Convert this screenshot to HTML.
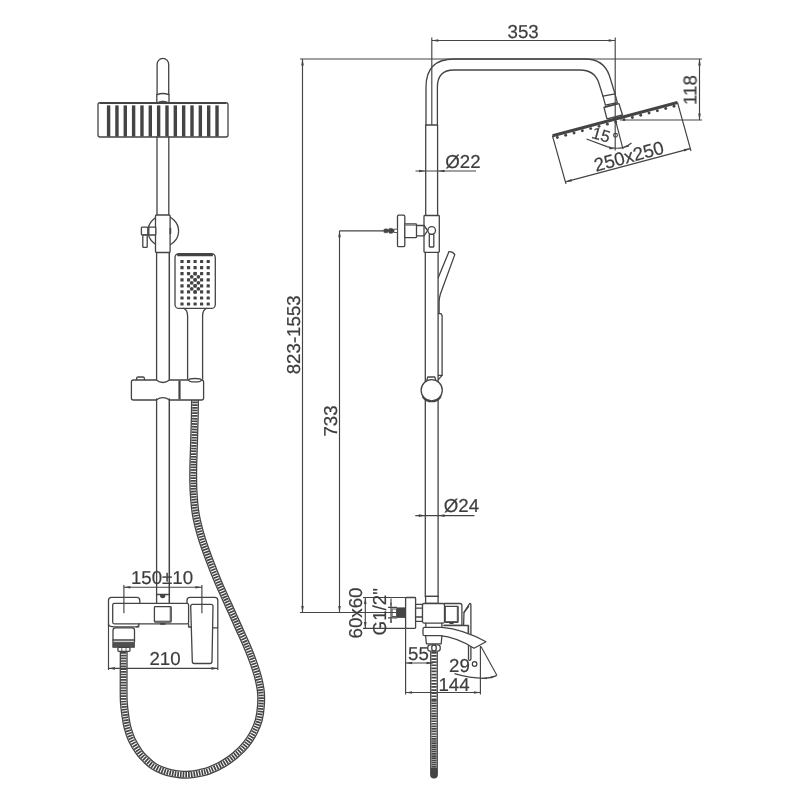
<!DOCTYPE html>
<html><head><meta charset="utf-8"><title>Shower column drawing</title>
<style>html,body{margin:0;padding:0;background:#fff;}body{width:800px;height:800px;overflow:hidden;}svg{display:block;}text{font-family:"Liberation Sans",sans-serif;font-size:18.7px;fill:#3d3d3d;stroke:#3d3d3d;stroke-width:0.2px;}</style>
</head><body>
<svg width="800" height="800" viewBox="0 0 800 800">
<rect x="0" y="0" width="800" height="800" fill="#fff"/>
<g fill="none" stroke-linecap="butt">
<path d="M195,399 C194.95,402.50 194.90,411.50 194.70,420.00 C194.50,428.50 194.05,441.33 193.80,450.00 C193.55,458.67 193.23,464.92 193.20,472.00 C193.17,479.08 193.15,485.33 193.60,492.50 C194.05,499.67 194.58,507.50 195.90,515.00 C197.22,522.50 199.25,530.00 201.50,537.50 C203.75,545.00 206.58,552.50 209.40,560.00 C212.22,567.50 215.22,575.00 218.40,582.50 C221.58,590.00 225.13,597.50 228.50,605.00 C231.87,612.50 235.32,620.17 238.60,627.50 C241.88,634.83 245.65,642.92 248.20,649.00 C250.75,655.08 252.22,659.17 253.90,664.00 C255.58,668.83 257.08,673.33 258.25,678.00 C259.42,682.67 260.46,687.33 260.90,692.00 C261.34,696.67 261.25,701.33 260.90,706.00 C260.55,710.67 259.97,715.62 258.80,720.00 C257.63,724.38 256.03,728.17 253.90,732.25 C251.77,736.33 249.07,740.71 246.00,744.50 C242.93,748.29 239.29,751.79 235.50,755.00 C231.71,758.21 227.62,761.17 223.25,763.75 C218.88,766.33 213.12,768.98 209.25,770.50 C205.38,772.02 203.21,772.22 200.00,772.90 C196.79,773.58 193.33,774.35 190.00,774.60 C186.67,774.85 183.12,774.65 180.00,774.40 C176.88,774.15 174.17,773.73 171.25,773.10 C168.33,772.47 165.42,771.74 162.50,770.60 C159.58,769.46 156.46,768.02 153.75,766.25 C151.04,764.48 148.64,762.29 146.25,760.00 C143.86,757.71 141.79,755.83 139.40,752.50 C137.01,749.17 133.88,744.17 131.90,740.00 C129.92,735.83 128.61,731.67 127.50,727.50 C126.39,723.33 125.86,719.17 125.25,715.00 C124.64,710.83 124.12,706.67 123.85,702.50 C123.57,698.33 123.64,692.08 123.60,690.00 L123.7,651" stroke="#444444" stroke-width="8"/>
<path d="M195,399 C194.95,402.50 194.90,411.50 194.70,420.00 C194.50,428.50 194.05,441.33 193.80,450.00 C193.55,458.67 193.23,464.92 193.20,472.00 C193.17,479.08 193.15,485.33 193.60,492.50 C194.05,499.67 194.58,507.50 195.90,515.00 C197.22,522.50 199.25,530.00 201.50,537.50 C203.75,545.00 206.58,552.50 209.40,560.00 C212.22,567.50 215.22,575.00 218.40,582.50 C221.58,590.00 225.13,597.50 228.50,605.00 C231.87,612.50 235.32,620.17 238.60,627.50 C241.88,634.83 245.65,642.92 248.20,649.00 C250.75,655.08 252.22,659.17 253.90,664.00 C255.58,668.83 257.08,673.33 258.25,678.00 C259.42,682.67 260.46,687.33 260.90,692.00 C261.34,696.67 261.25,701.33 260.90,706.00 C260.55,710.67 259.97,715.62 258.80,720.00 C257.63,724.38 256.03,728.17 253.90,732.25 C251.77,736.33 249.07,740.71 246.00,744.50 C242.93,748.29 239.29,751.79 235.50,755.00 C231.71,758.21 227.62,761.17 223.25,763.75 C218.88,766.33 213.12,768.98 209.25,770.50 C205.38,772.02 203.21,772.22 200.00,772.90 C196.79,773.58 193.33,774.35 190.00,774.60 C186.67,774.85 183.12,774.65 180.00,774.40 C176.88,774.15 174.17,773.73 171.25,773.10 C168.33,772.47 165.42,771.74 162.50,770.60 C159.58,769.46 156.46,768.02 153.75,766.25 C151.04,764.48 148.64,762.29 146.25,760.00 C143.86,757.71 141.79,755.83 139.40,752.50 C137.01,749.17 133.88,744.17 131.90,740.00 C129.92,735.83 128.61,731.67 127.50,727.50 C126.39,723.33 125.86,719.17 125.25,715.00 C124.64,710.83 124.12,706.67 123.85,702.50 C123.57,698.33 123.64,692.08 123.60,690.00 L123.7,651" stroke="#fff" stroke-width="5.4"/>
<path d="M195,399 C194.95,402.50 194.90,411.50 194.70,420.00 C194.50,428.50 194.05,441.33 193.80,450.00 C193.55,458.67 193.23,464.92 193.20,472.00 C193.17,479.08 193.15,485.33 193.60,492.50 C194.05,499.67 194.58,507.50 195.90,515.00 C197.22,522.50 199.25,530.00 201.50,537.50 C203.75,545.00 206.58,552.50 209.40,560.00 C212.22,567.50 215.22,575.00 218.40,582.50 C221.58,590.00 225.13,597.50 228.50,605.00 C231.87,612.50 235.32,620.17 238.60,627.50 C241.88,634.83 245.65,642.92 248.20,649.00 C250.75,655.08 252.22,659.17 253.90,664.00 C255.58,668.83 257.08,673.33 258.25,678.00 C259.42,682.67 260.46,687.33 260.90,692.00 C261.34,696.67 261.25,701.33 260.90,706.00 C260.55,710.67 259.97,715.62 258.80,720.00 C257.63,724.38 256.03,728.17 253.90,732.25 C251.77,736.33 249.07,740.71 246.00,744.50 C242.93,748.29 239.29,751.79 235.50,755.00 C231.71,758.21 227.62,761.17 223.25,763.75 C218.88,766.33 213.12,768.98 209.25,770.50 C205.38,772.02 203.21,772.22 200.00,772.90 C196.79,773.58 193.33,774.35 190.00,774.60 C186.67,774.85 183.12,774.65 180.00,774.40 C176.88,774.15 174.17,773.73 171.25,773.10 C168.33,772.47 165.42,771.74 162.50,770.60 C159.58,769.46 156.46,768.02 153.75,766.25 C151.04,764.48 148.64,762.29 146.25,760.00 C143.86,757.71 141.79,755.83 139.40,752.50 C137.01,749.17 133.88,744.17 131.90,740.00 C129.92,735.83 128.61,731.67 127.50,727.50 C126.39,723.33 125.86,719.17 125.25,715.00 C124.64,710.83 124.12,706.67 123.85,702.50 C123.57,698.33 123.64,692.08 123.60,690.00 L123.7,651" stroke="#444444" stroke-width="5.4" stroke-dasharray="1.7 1.0"/>
</g>
<g fill="none">
<path d="M434,651 L434,774.6" stroke="#444444" stroke-width="7.8" stroke-linecap="round"/>
<path d="M434,651 L434,768" stroke="#fff" stroke-width="5.2"/>
<path d="M434,652 L434,700" stroke="#444444" stroke-width="5.2" stroke-dasharray="1.7 1.4"/>
<path d="M434,700 L434,738" stroke="#444444" stroke-width="5.2" stroke-dasharray="1.65 0.9"/>
<path d="M434,738 L434,768" stroke="#444444" stroke-width="5.2" stroke-dasharray="1.7 0.45"/>
</g>
<g fill="none" stroke="#444444" stroke-width="1.3" stroke-linejoin="round" stroke-linecap="round">
<path d="M157.1,94.4 V64.4 a5.8,6 0 0 1 11.6,0 V94.4" fill="#fff"/>
<path d="M157.1,94.6 Q162.9,92.4 168.7,94.6"/>
<path d="M156.8,94.6 V102 M169,94.6 V102"/>
<path d="M158,102.2 Q162.9,99.6 167.8,102.2 Z" fill="#444444" stroke-width="0.8"/>
<rect x="98" y="102.6" width="130" height="34.4" rx="2" fill="#fff" stroke-width="1.3"/>
<path d="M99.5,103.1 H226.5" stroke-width="1.9" stroke-linecap="butt"/>
<path d="M157,137 V215 M168.8,137 V215"/>
<circle cx="163.3" cy="231" r="15.3" fill="#fff"/>
<rect x="155.5" y="215" width="14.6" height="37.5" rx="1" fill="#fff"/>
<path d="M170.4,228.6 V233.4" stroke-width="1.7"/>
<rect x="141.4" y="227.2" width="6.4" height="7.8" rx="0.8" fill="#fff"/>
<rect x="148.8" y="227.2" width="7" height="7.8" rx="0.8" fill="#fff"/>
<rect x="142.8" y="235" width="4.4" height="12.4" rx="0.6" fill="#fff"/>
<path d="M156.6,252.5 V381"/><path d="M169.3,252.5 V381" stroke-width="1.5"/>
<rect x="175" y="253.6" width="40.3" height="54.8" rx="4" fill="#fff" stroke-width="1.3"/>
<path d="M177.2,255.1 H212.9" stroke-width="2.3" stroke-linecap="butt"/>
<path d="M183.8,308.3 C186.6,309.4 187.6,312 187.6,316 V379 M206.4,308.3 C203.6,309.4 202.6,312 202.6,316 V379"/>
<rect x="136.6" y="377" width="7.8" height="4" rx="1.6" fill="#fff"/>
<path d="M133.4,380 H156.3 Q162.9,385 169.5,380 H201.6 Q203.6,380 203.6,382 V398 Q203.6,400 201.6,400 H169.5 Q162.9,395.4 156.3,400 H133.4 Q131.4,400 131.4,398 V382 Q131.4,380 133.4,380 Z" fill="#fff"/>
<path d="M179.5,380.6 V399.4" stroke-width="2.2" stroke-linecap="butt"/>
<ellipse cx="195" cy="380.2" rx="6.2" ry="1.7" fill="#fff"/>
<path d="M156.6,399 V603.4"/><path d="M169.3,399 V603.4" stroke-width="1.5"/>
<path d="M156.5,594.5 H169.5"/>
<path d="M160.6,595 A2.1,2.6 0 0 0 164.8,595 Z" fill="#444444"/>
<path d="M108.5,627 V600.4 Q108.5,597.4 111.5,597.4 H136.8 Q139.8,597.4 139.8,600.4 V603.4"/>
<path d="M108.5,624.4 Q109,627 115.4,626.8 H139 "/>
<path d="M187,603.4 V600.4 Q187,597.4 190,597.4 H214.8 Q217.8,597.4 217.8,600.4 V627.8 H213"/>
<rect x="112.7" y="603.4" width="75.9" height="20.4" rx="1.5" fill="#fff"/>
<path d="M139,624 Q139,626.8 136.5,626.8"/>
<rect x="154.4" y="606.7" width="16.8" height="15.4" rx="0.8" fill="#fff"/>
<path d="M170.2,607.5 V621.2 H155.2" stroke-width="0.9"/>
<path d="M160.5,623.9 h4.5" stroke-width="1.6"/>
<path d="M192.7,604.3 H211 Q213,604.3 213,606.3 L212,661.5 Q212,663.5 210,663.5 H194.3 Q192.3,663.5 192.3,661.5 L190.7,606.3 Q190.7,604.3 192.7,604.3 Z" fill="#fff"/>
<path d="M188.6,623.8 V627 H191.3"/>
<path d="M113,641.6 V630.3 Q113,627.8 115.5,627.8 H132 Q134.5,627.8 134.5,630.3 V641.6"/>
<path d="M113,640 H134.5"/>
<rect x="113" y="642.2" width="21.5" height="5.2" fill="#505050" stroke-width="0.8"/>
<rect x="117.9" y="647.4" width="12.1" height="4" rx="1.2" fill="#fff"/>
<path d="M121.8,647.6 v3.6 M126,647.6 v3.6" stroke-width="0.8"/>
</g>
<g fill="#444444" stroke="none">
<rect x="106.90" y="105.4" width="3.4" height="31.2" />
<rect x="115.24" y="105.4" width="3.4" height="31.2" />
<rect x="123.58" y="105.4" width="3.4" height="31.2" />
<rect x="131.92" y="105.4" width="3.4" height="31.2" />
<rect x="140.26" y="105.4" width="3.4" height="31.2" />
<rect x="148.60" y="105.4" width="3.4" height="31.2" />
<rect x="156.94" y="105.4" width="3.4" height="31.2" />
<rect x="165.28" y="105.4" width="3.4" height="31.2" />
<rect x="173.62" y="105.4" width="3.4" height="31.2" />
<rect x="181.96" y="105.4" width="3.4" height="31.2" />
<rect x="190.30" y="105.4" width="3.4" height="31.2" />
<rect x="198.64" y="105.4" width="3.4" height="31.2" />
<rect x="206.98" y="105.4" width="3.4" height="31.2" />
<rect x="215.32" y="105.4" width="3.4" height="31.2" />
</g>
<g fill="#444444" stroke="none">
<rect x="180.40" y="259.90" width="3.2" height="3.2" rx="0.5"/>
<rect x="186.95" y="259.90" width="3.2" height="3.2" rx="0.5"/>
<rect x="193.50" y="259.90" width="3.2" height="3.2" rx="0.5"/>
<rect x="200.00" y="259.90" width="3.2" height="3.2" rx="0.5"/>
<rect x="206.60" y="259.90" width="3.2" height="3.2" rx="0.5"/>
<rect x="180.40" y="266.00" width="3.2" height="3.2" rx="0.5"/>
<rect x="186.95" y="266.00" width="3.2" height="3.2" rx="0.5"/>
<rect x="193.50" y="266.00" width="3.2" height="3.2" rx="0.5"/>
<rect x="200.00" y="266.00" width="3.2" height="3.2" rx="0.5"/>
<rect x="206.60" y="266.00" width="3.2" height="3.2" rx="0.5"/>
<rect x="180.40" y="272.10" width="3.2" height="3.2" rx="0.5"/>
<rect x="186.95" y="272.10" width="3.2" height="3.2" rx="0.5"/>
<rect x="193.50" y="272.10" width="3.2" height="3.2" rx="0.5"/>
<rect x="200.00" y="272.10" width="3.2" height="3.2" rx="0.5"/>
<rect x="206.60" y="272.10" width="3.2" height="3.2" rx="0.5"/>
<rect x="180.40" y="278.20" width="3.2" height="3.2" rx="0.5"/>
<rect x="186.95" y="278.20" width="3.2" height="3.2" rx="0.5"/>
<rect x="193.50" y="278.20" width="3.2" height="3.2" rx="0.5"/>
<rect x="200.00" y="278.20" width="3.2" height="3.2" rx="0.5"/>
<rect x="206.60" y="278.20" width="3.2" height="3.2" rx="0.5"/>
<rect x="180.40" y="284.20" width="3.2" height="3.2" rx="0.5"/>
<rect x="186.95" y="284.20" width="3.2" height="3.2" rx="0.5"/>
<rect x="193.50" y="284.20" width="3.2" height="3.2" rx="0.5"/>
<rect x="200.00" y="284.20" width="3.2" height="3.2" rx="0.5"/>
<rect x="206.60" y="284.20" width="3.2" height="3.2" rx="0.5"/>
<rect x="180.40" y="290.30" width="3.2" height="3.2" rx="0.5"/>
<rect x="186.95" y="290.30" width="3.2" height="3.2" rx="0.5"/>
<rect x="193.50" y="290.30" width="3.2" height="3.2" rx="0.5"/>
<rect x="200.00" y="290.30" width="3.2" height="3.2" rx="0.5"/>
<rect x="206.60" y="290.30" width="3.2" height="3.2" rx="0.5"/>
<rect x="180.40" y="296.40" width="3.2" height="3.2" rx="0.5"/>
<rect x="186.95" y="296.40" width="3.2" height="3.2" rx="0.5"/>
<rect x="193.50" y="296.40" width="3.2" height="3.2" rx="0.5"/>
<rect x="200.00" y="296.40" width="3.2" height="3.2" rx="0.5"/>
<rect x="206.60" y="296.40" width="3.2" height="3.2" rx="0.5"/>
<rect x="180.40" y="302.40" width="3.2" height="3.2" rx="0.5"/>
<rect x="186.95" y="302.40" width="3.2" height="3.2" rx="0.5"/>
<rect x="193.50" y="302.40" width="3.2" height="3.2" rx="0.5"/>
<rect x="200.00" y="302.40" width="3.2" height="3.2" rx="0.5"/>
<rect x="206.60" y="302.40" width="3.2" height="3.2" rx="0.5"/>
<circle cx="191.7" cy="276.8" r="1.85"/>
<circle cx="198.4" cy="276.8" r="1.85"/>
<circle cx="191.7" cy="282.8" r="1.85"/>
<circle cx="198.4" cy="282.8" r="1.85"/>
<circle cx="191.7" cy="288.8" r="1.85"/>
<circle cx="198.4" cy="288.8" r="1.85"/>
<circle cx="195.1" cy="273.7" r="1.85"/>
<circle cx="195.1" cy="279.8" r="1.85"/>
<circle cx="195.1" cy="285.8" r="1.85"/>
<circle cx="195.1" cy="291.9" r="1.85"/>
</g>
<g fill="none" stroke="#444444" stroke-width="1.3" stroke-linejoin="round" stroke-linecap="round">
<path d="M426,125 V87 Q426,59 454,59 H585 Q604,59 609.5,76 L615,93.8"/>
<path d="M437.4,125 V87 Q437.4,70 454,70 H580 Q594,70 598.5,82 L603,96.2"/>
<path d="M426,125 H437.4"/>
<path d="M603,96.2 L615,93.8 L617.3,102.6 L605.4,105.2 Z" fill="#fff"/>
<path d="M605.2,106.6 L617.5,103.8"/>
<path d="M604,107.5 L619,103.6 L622.5,115 L607,118.8 Z" fill="#fff"/>
<path d="M552.5,135.8 L677.5,102.4" stroke-width="3.1" stroke-linecap="butt"/>
<path d="M552.5,136.6 L556,135.2" stroke-width="1"/>
<path d="M425.7,125 V215.5 M437.6,125 V215.5"/>
<rect x="424" y="215.5" width="15.3" height="36.8" rx="0.8" fill="#fff"/>
<circle cx="431.7" cy="230.5" r="3.8" fill="#fff"/>
<rect x="429.3" y="234.4" width="4.5" height="12.6" rx="0.5" fill="#fff"/>
<rect x="397.5" y="215.2" width="7.3" height="31.5" rx="1.2" fill="#fff"/>
<rect x="404.8" y="223.8" width="11.7" height="13.9" rx="0.8" fill="#fff"/>
<path d="M406,225.2 H415.5" stroke-width="0.8"/>
<path d="M416.5,225.5 H424 L427.6,230.5 L424,235.8 H416.5"/>
<path d="M383,230.8 L384.6,228.9 H387.4 L388.2,230 L389.4,228.4 H392.2 L393.4,229.6 H394.2 V232 H393.4 L392.2,233.2 H389.4 L388.2,231.6 L387.4,232.7 H384.6 Z" fill="#444444" stroke-width="0.6"/>
<rect x="394.2" y="229.2" width="3.3" height="3.3" fill="#fff" stroke-width="0.9"/>
<path d="M425.3,252.3 V596.3 M438.1,252.3 V596.3"/>
<path d="M438.3,277.5 L449,251.6 Q452.5,251.2 454.8,254.6 L440.4,294 Q439.1,298 439.1,302 V313.4"/>
<path d="M438.4,313.6 H441 L442.1,315.6 V375.4 L438.6,379.4"/>
<path d="M438.4,375.4 H442.1" />
<path d="M426.8,380.2 L427.8,377 H434.8 L435.8,380.2"/>
<path d="M422.6,397 A11.2,11.2 0 0 0 440.8,397" />
<circle cx="431.7" cy="390.3" r="10.6" fill="#fff"/>
<path d="M425.3,596.3 H438.4"/>
<rect x="425.6" y="596.3" width="12.5" height="7" fill="#fff"/>
<rect x="405.6" y="597.5" width="10" height="30.8" rx="0.8" fill="#fff"/>
<rect x="415.6" y="604.4" width="7" height="17" rx="1" fill="#fff"/>
<path d="M415.6,608.2 H422.5 M415.6,617 H422.5"/>
<rect x="422.5" y="603.5" width="22" height="19.6" rx="1.5" fill="#fff"/>
<path d="M444.4,603.5 H460 Q461.9,603.5 461.9,605.4 V625.4 H444"/>
<rect x="445.2" y="606.3" width="12.9" height="16" rx="0.6" fill="#fff"/>
<path d="M457.3,607 V621.6 H446" stroke-width="0.9"/>
<path d="M450,623.4 h3" stroke-width="1.4"/>
<path d="M463.6,625 L464,612.4 L469.6,603.6 Q470.9,603.2 470.9,605 V659 Q470.9,660.4 469.6,660.4 Q468.5,660.4 468.5,659 V625.6"/>
<path d="M464,612.4 L468.6,606.5"/>
<path d="M425.8,623.1 V627.4 M441.9,623.1 V627.4"/>
<path d="M444,625.5 H468.3 V632.8"/>
<path d="M424.5,627.4 H442 C456,628.6 471,633.5 486,641.8 L474,648.2 C463,641.5 451,636.6 440,635.7 H424.5 Q423,635.7 423,634.2 V628.9 Q423,627.4 424.5,627.4 Z" fill="#fff"/>
<path d="M425.6,635.7 L426.4,643.8 H441.2 L441.9,635.7"/>
<rect x="427.8" y="644.8" width="12.4" height="6.4" rx="2.4" fill="#fff"/>
<ellipse cx="434" cy="648" rx="2.3" ry="3" fill="#fff"/>
</g>
<g fill="#444444" stroke="none">
<circle cx="557.37" cy="137.49" r="1.45"/>
<circle cx="565.70" cy="135.26" r="1.45"/>
<circle cx="574.03" cy="133.03" r="1.45"/>
<circle cx="582.37" cy="130.81" r="1.45"/>
<circle cx="590.70" cy="128.58" r="1.45"/>
<circle cx="599.03" cy="126.35" r="1.45"/>
<circle cx="607.37" cy="124.13" r="1.45"/>
<circle cx="615.70" cy="121.90" r="1.45"/>
<circle cx="624.03" cy="119.67" r="1.45"/>
<circle cx="632.37" cy="117.45" r="1.45"/>
<circle cx="640.70" cy="115.22" r="1.45"/>
<circle cx="649.03" cy="112.99" r="1.45"/>
<circle cx="657.37" cy="110.77" r="1.45"/>
<circle cx="665.70" cy="108.54" r="1.45"/>
<circle cx="674.03" cy="106.31" r="1.45"/>
</g>
<rect x="396.5" y="607.4" width="9" height="10.5" fill="#444444"/>
<rect x="392.1" y="609" width="4.4" height="7.5" fill="#fff" stroke="#444444" stroke-width="0.9"/>
<g fill="none" stroke="#444444" stroke-width="1.15" stroke-linecap="butt">
<path d="M300,59 H702"/>
<path d="M431.8,37.5 V125 M615.2,37.5 V150.5 M431.8,40.5 H615.2"/>
<path d="M620,120 H702 M699.5,59 V120"/>
<path d="M552.5,136 L566,184 M677.5,102.5 L691,151 M565.3,181.9 L690.3,148.6"/>
<path d="M615.2,119 L623,149.2"/>
<path d="M586.5,139 L607,146.6 Q615,149.2 623,147.6 Q628,146 631.5,143"/>
<circle cx="615.5" cy="135.2" r="1.9"/>
<path d="M415.5,171 H476"/>
<path d="M415.3,515.6 H474.4"/>
<path d="M302.5,59 V612.5"/>
<path d="M339.5,230.8 V612.5 M339.5,230.8 H383"/>
<path d="M300,612.5 H396"/>
<path d="M363,597.5 H405.6 M363,628.4 H405.6 M365.3,597.5 V628.4"/>
<path d="M391,598.5 V623 M388,607.3 H397 M388,617.9 H397"/>
<path d="M405.6,628.4 V694.5 M405.6,663 H433 M405.6,692.5 H480.4 M480.4,646 V694.5"/>
<path d="M481,646.5 L497,675.5"/>
<path d="M454.5,673.6 Q470,678 484,678.4 Q491,678 496.6,675.6"/>
<path d="M123.9,585 V613.2 M201.9,585 V613.2 M123.9,587.2 H201.9"/>
<path d="M108.5,627 V670 M217.8,627.8 V670 M108.5,668.4 H217.8"/>
</g>
<g>
<polygon points="431.80,40.50 438.30,39.20 438.30,41.80" fill="#444444" stroke="none"/>
<polygon points="615.20,40.50 608.70,41.80 608.70,39.20" fill="#444444" stroke="none"/>
<polygon points="699.50,59.00 700.80,65.50 698.20,65.50" fill="#444444" stroke="none"/>
<polygon points="699.50,120.00 698.20,113.50 700.80,113.50" fill="#444444" stroke="none"/>
<polygon points="565.30,181.90 571.25,178.97 571.92,181.48" fill="#444444" stroke="none"/>
<polygon points="690.30,148.60 684.35,151.53 683.68,149.02" fill="#444444" stroke="none"/>
<polygon points="425.50,171.00 419.00,172.30 419.00,169.70" fill="#444444" stroke="none"/>
<polygon points="438.00,171.00 444.50,169.70 444.50,172.30" fill="#444444" stroke="none"/>
<polygon points="425.30,515.60 418.80,516.90 418.80,514.30" fill="#444444" stroke="none"/>
<polygon points="438.10,515.60 444.60,514.30 444.60,516.90" fill="#444444" stroke="none"/>
<polygon points="302.50,59.00 303.80,65.50 301.20,65.50" fill="#444444" stroke="none"/>
<polygon points="302.50,612.50 301.20,606.00 303.80,606.00" fill="#444444" stroke="none"/>
<polygon points="339.50,230.80 340.80,237.30 338.20,237.30" fill="#444444" stroke="none"/>
<polygon points="339.50,612.50 338.20,606.00 340.80,606.00" fill="#444444" stroke="none"/>
<polygon points="365.30,597.50 366.60,604.00 364.00,604.00" fill="#444444" stroke="none"/>
<polygon points="365.30,628.40 364.00,621.90 366.60,621.90" fill="#444444" stroke="none"/>
<polygon points="391.00,607.30 390.25,602.80 391.75,602.80" fill="#444444" stroke="none"/>
<polygon points="391.00,617.90 391.75,622.40 390.25,622.40" fill="#444444" stroke="none"/>
<polygon points="405.60,663.00 412.10,661.70 412.10,664.30" fill="#444444" stroke="none"/>
<polygon points="433.00,663.00 426.50,664.30 426.50,661.70" fill="#444444" stroke="none"/>
<polygon points="405.60,692.50 412.10,691.20 412.10,693.80" fill="#444444" stroke="none"/>
<polygon points="480.40,692.50 473.90,693.80 473.90,691.20" fill="#444444" stroke="none"/>
<polygon points="123.90,587.20 130.40,585.90 130.40,588.50" fill="#444444" stroke="none"/>
<polygon points="201.90,587.20 195.40,588.50 195.40,585.90" fill="#444444" stroke="none"/>
<polygon points="108.50,668.40 115.00,667.10 115.00,669.70" fill="#444444" stroke="none"/>
<polygon points="217.80,668.40 211.30,669.70 211.30,667.10" fill="#444444" stroke="none"/>
<polygon points="615.20,148.90 609.14,149.37 609.31,147.38" fill="#444444" stroke="none"/>
<polygon points="623.00,147.80 628.30,144.81 628.98,146.69" fill="#444444" stroke="none"/>
<polygon points="480.80,678.30 486.80,677.30 486.80,679.30" fill="#444444" stroke="none"/>
<polygon points="496.40,675.80 491.00,678.61 490.38,676.70" fill="#444444" stroke="none"/>
</g>
<g opacity="0.999" style="text-rendering:geometricPrecision">
<text x="523.1" y="38" text-anchor="middle">353</text>
<text transform="translate(696.5,90) rotate(-90)" text-anchor="middle">118</text>
<text x="445.3" y="167.5">Ø22</text>
<text transform="translate(630.5,162.5) rotate(-15)" text-anchor="middle">250x250</text>
<text transform="translate(590.8,137.8) rotate(16)" style="font-size:16.5px">15</text>
<text transform="translate(299.8,334.8) rotate(-90)" text-anchor="middle">823-1553</text>
<text transform="translate(337,421) rotate(-90)" text-anchor="middle">733</text>
<text x="443.8" y="512.3">Ø24</text>
<text transform="translate(362,613) rotate(-90)" text-anchor="middle">60x60</text>
<text transform="translate(385.9,611.8) rotate(-90)" text-anchor="middle">G1/2"</text>
<text x="418.5" y="659.5" text-anchor="middle">55</text>
<text x="454" y="691" text-anchor="middle">144</text>
<text x="449" y="672.3">29</text>
<circle cx="474.6" cy="664" r="2.3" fill="none" stroke="#3d3d3d" stroke-width="1.2"/>
<text x="162" y="584" text-anchor="middle">150±10</text>
<text x="165" y="665.2" text-anchor="middle">210</text>
</g>
</svg>
</body></html>
